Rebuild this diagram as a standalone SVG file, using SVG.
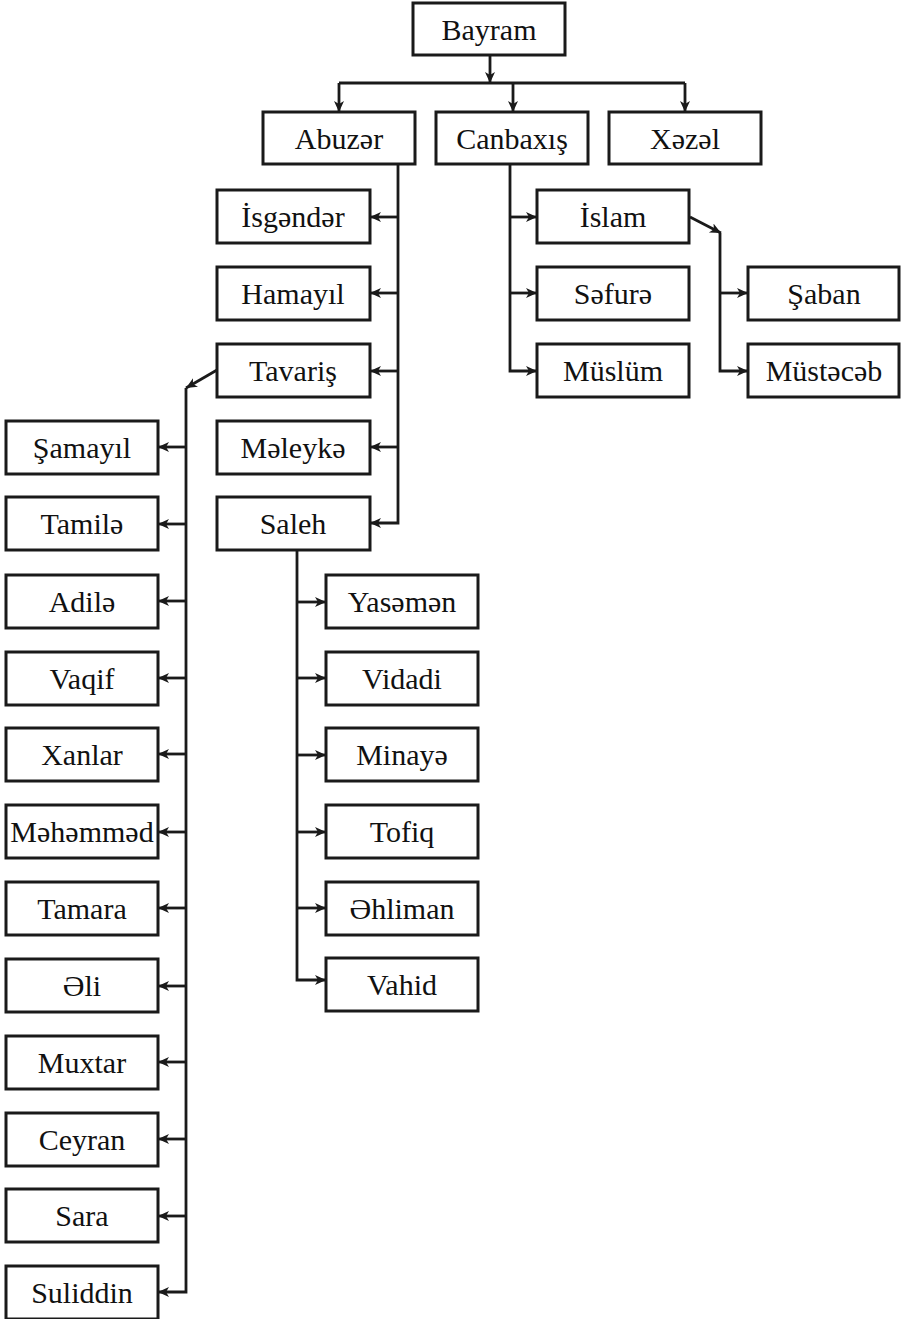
<svg xmlns="http://www.w3.org/2000/svg" width="901" height="1319" viewBox="0 0 901 1319">
<style>
.box rect{fill:#fff;stroke:#1a1a1a;stroke-width:3}
.box text{font-family:"Liberation Serif","Times New Roman",serif;font-size:30px;fill:#111;text-anchor:middle}
.c{fill:none;stroke:#1a1a1a;stroke-width:2.8}
.a{marker-end:url(#ah)}
</style>
<defs>
<marker id="ah" markerUnits="userSpaceOnUse" markerWidth="14" markerHeight="12" refX="11" refY="5" orient="auto">
<path d="M0,0 L11,5 L0,10 L3,5 z" fill="#1a1a1a"/>
</marker>
</defs>
<rect width="901" height="1319" fill="#fff"/>
<g id="connectors">
<path class="c a" d="M490,55 V83"/>
<path class="c" d="M339,83 H685"/>
<path class="c a" d="M339,83 V112"/>
<path class="c a" d="M513,83 V112"/>
<path class="c a" d="M685,83 V112"/>
<path class="c a" d="M398,164 V523 H370"/>
<path class="c a" d="M398,217 H370"/>
<path class="c a" d="M398,293 H370"/>
<path class="c a" d="M398,371 H370"/>
<path class="c a" d="M398,447 H370"/>
<path class="c a" d="M510,164 V371 H537"/>
<path class="c a" d="M510,217 H537"/>
<path class="c a" d="M510,293 H537"/>
<path class="c a" d="M690,217 L721,233"/>
<path class="c a" d="M720,233 V371 H748"/>
<path class="c a" d="M720,293 H748"/>
<path class="c a" d="M217,370 L186,388"/>
<path class="c a" d="M186,388 V1292 H158"/>
<path class="c a" d="M186,447 H158"/>
<path class="c a" d="M186,524 H158"/>
<path class="c a" d="M186,601 H158"/>
<path class="c a" d="M186,678 H158"/>
<path class="c a" d="M186,754 H158"/>
<path class="c a" d="M186,832 H158"/>
<path class="c a" d="M186,908 H158"/>
<path class="c a" d="M186,986 H158"/>
<path class="c a" d="M186,1062 H158"/>
<path class="c a" d="M186,1139 H158"/>
<path class="c a" d="M186,1216 H158"/>
<path class="c a" d="M297,550 V980 H326"/>
<path class="c a" d="M297,602 H326"/>
<path class="c a" d="M297,678 H326"/>
<path class="c a" d="M297,755 H326"/>
<path class="c a" d="M297,832 H326"/>
<path class="c a" d="M297,908 H326"/>
</g>
<g id="n-bayram" class="box"><rect x="413" y="3" width="152" height="52"/><text x="489" y="40">Bayram</text></g>
<g id="n-abuzer" class="box"><rect x="263" y="112" width="152" height="52"/><text x="339" y="149">Abuzər</text></g>
<g id="n-canbaxis" class="box"><rect x="436" y="112" width="152" height="52"/><text x="512" y="149">Canbaxış</text></g>
<g id="n-xezel" class="box"><rect x="609" y="112" width="152" height="52"/><text x="685" y="149">Xəzəl</text></g>
<g id="n-isgender" class="box"><rect x="217" y="190" width="153" height="53"/><text x="293" y="227">İsgəndər</text></g>
<g id="n-hamayil" class="box"><rect x="217" y="267" width="153" height="53"/><text x="293" y="304">Hamayıl</text></g>
<g id="n-tavaris" class="box"><rect x="217" y="344" width="153" height="53"/><text x="293" y="381">Tavariş</text></g>
<g id="n-meleyke" class="box"><rect x="217" y="421" width="153" height="53"/><text x="293" y="458">Məleykə</text></g>
<g id="n-saleh" class="box"><rect x="217" y="497" width="153" height="53"/><text x="293" y="534">Saleh</text></g>
<g id="n-islam" class="box"><rect x="537" y="190" width="152" height="53"/><text x="613" y="227">İslam</text></g>
<g id="n-sefure" class="box"><rect x="537" y="267" width="152" height="53"/><text x="613" y="304">Səfurə</text></g>
<g id="n-muslum" class="box"><rect x="537" y="344" width="152" height="53"/><text x="613" y="381">Müslüm</text></g>
<g id="n-saban" class="box"><rect x="748" y="267" width="151" height="53"/><text x="824" y="304">Şaban</text></g>
<g id="n-mustecab" class="box"><rect x="748" y="344" width="151" height="53"/><text x="824" y="381">Müstəcəb</text></g>
<g id="n-samayil" class="box"><rect x="6" y="421" width="152" height="53"/><text x="82" y="458">Şamayıl</text></g>
<g id="n-tamile" class="box"><rect x="6" y="497" width="152" height="53"/><text x="82" y="534">Tamilə</text></g>
<g id="n-adile" class="box"><rect x="6" y="575" width="152" height="53"/><text x="82" y="612">Adilə</text></g>
<g id="n-vaqif" class="box"><rect x="6" y="652" width="152" height="53"/><text x="82" y="689">Vaqif</text></g>
<g id="n-xanlar" class="box"><rect x="6" y="728" width="152" height="53"/><text x="82" y="765">Xanlar</text></g>
<g id="n-mehemmed" class="box"><rect x="6" y="805" width="152" height="53"/><text x="82" y="842">Məhəmməd</text></g>
<g id="n-tamara" class="box"><rect x="6" y="882" width="152" height="53"/><text x="82" y="919">Tamara</text></g>
<g id="n-eli" class="box"><rect x="6" y="959" width="152" height="53"/><text x="82" y="996">Əli</text></g>
<g id="n-muxtar" class="box"><rect x="6" y="1036" width="152" height="53"/><text x="82" y="1073">Muxtar</text></g>
<g id="n-ceyran" class="box"><rect x="6" y="1113" width="152" height="53"/><text x="82" y="1150">Ceyran</text></g>
<g id="n-sara" class="box"><rect x="6" y="1189" width="152" height="53"/><text x="82" y="1226">Sara</text></g>
<g id="n-suliddin" class="box"><rect x="6" y="1266" width="152" height="53"/><text x="82" y="1303">Suliddin</text></g>
<g id="n-yasemen" class="box"><rect x="326" y="575" width="152" height="53"/><text x="402" y="612">Yasəmən</text></g>
<g id="n-vidadi" class="box"><rect x="326" y="652" width="152" height="53"/><text x="402" y="689">Vidadi</text></g>
<g id="n-minaye" class="box"><rect x="326" y="728" width="152" height="53"/><text x="402" y="765">Minayə</text></g>
<g id="n-tofiq" class="box"><rect x="326" y="805" width="152" height="53"/><text x="402" y="842">Tofiq</text></g>
<g id="n-ehliman" class="box"><rect x="326" y="882" width="152" height="53"/><text x="402" y="919">Əhliman</text></g>
<g id="n-vahid" class="box"><rect x="326" y="958" width="152" height="53"/><text x="402" y="995">Vahid</text></g>
</svg>
